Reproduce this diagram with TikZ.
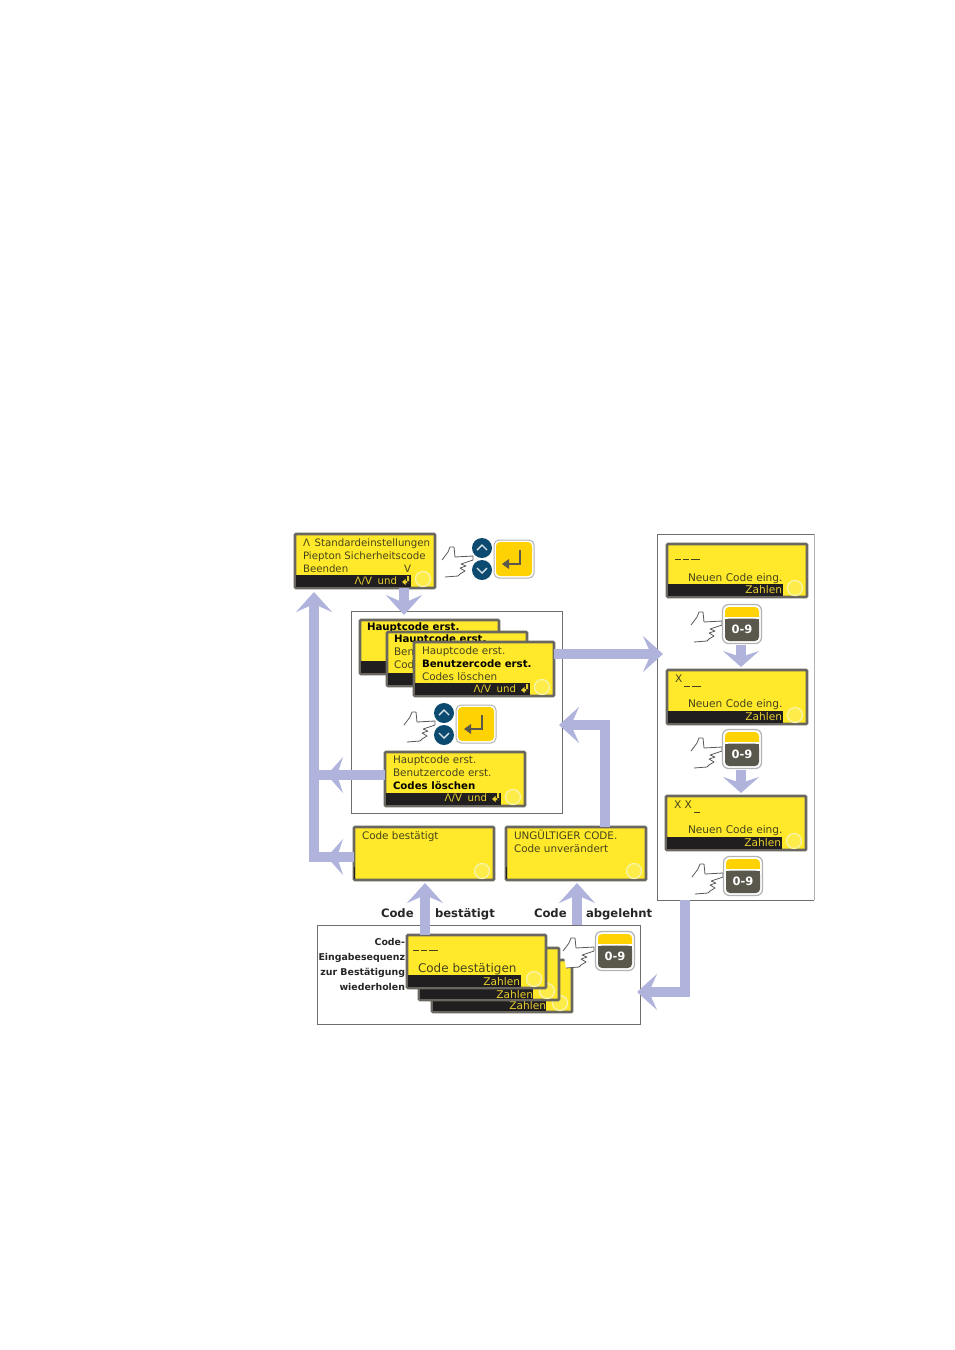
\documentclass[tikz,border=0pt]{standalone}
\usepackage{fontspec}
\setmainfont{DejaVu Sans}
\usetikzlibrary{arrows.meta,calc}
\definecolor{scry}{HTML}{FFE92A}
\definecolor{scrb}{HTML}{69675F}
\definecolor{barc}{HTML}{201E1E}
\definecolor{txtc}{HTML}{46441C}
\definecolor{bart}{HTML}{E8CF30}
\definecolor{ringc}{HTML}{F8F3A8}
\definecolor{lila}{HTML}{B0B4DC}
\definecolor{amber}{HTML}{FFD204}
\definecolor{keyd}{HTML}{5A574C}
\definecolor{navy}{HTML}{0C4A70}
\definecolor{boxl}{HTML}{6E6E6E}
\tikzset{
  x=1pt,y=-1pt,
  scrbox/.style={draw=scrb,fill=scry,line width=2.8pt,rounded corners=1pt,anchor=north west,inner sep=0,outer sep=0,minimum width=#1},
  frame/.style={draw=boxl,fill=white,line width=1pt},
  stxt/.style={anchor=base west,inner sep=0,outer sep=0,text=txtc,font=\fontsize{10.4}{12}\selectfont},
  ttxt/.style={stxt,font=\fontsize{10.2}{12}\selectfont},
  rtxt/.style={stxt,font=\fontsize{10.6}{12}\selectfont},
  sbold/.style={stxt,text=black,font=\fontsize{10.2}{12}\selectfont\bfseries},
  btxt/.style={anchor=base east,inner sep=0,outer sep=0,text=bart,font=\fontsize{10.6}{12}\selectfont},
  lbl/.style={inner sep=0,outer sep=0,text=black!85,font=\fontsize{11.6}{13}\selectfont\bfseries,anchor=base west},
  lbr/.style={inner sep=0,outer sep=0,text=black!85,font=\fontsize{9.4}{11}\selectfont\bfseries,anchor=base east},
  arr/.style={draw=lila,line width=10pt,line join=miter,-{Stealth[length=20pt,width=36pt,inset=8pt,fill=lila]}},
  arrs/.style={draw=lila,line width=10pt,-{Stealth[length=16pt,width=36pt,inset=6pt,fill=lila]}},
  hand/.pic={\draw[draw=black!65,line width=.8pt,fill=white,line join=round]
    (-31,2)--(-25,-6)--(-23,-11)--(-19,-11)--(-18,-1)--(0,-2)--(0,2)--(-12,6)--(-7,8)--(-13,10)--(-8,13)--(-13,16)--(-15,18)--(-28,19);},
}
% \scrn{name}{x}{y}{w}{h}{bar width}
\newcommand{\scrn}[6]{%
  \node[scrbox=#4pt,minimum height=#5pt] (#1) at (#2,#3) {};
  \begin{scope}[shift={(#2,#3)}]
    \fill[barc] (1.4,#5-13) rectangle (#6,#5-1.4);
    \fill[ringc!25!scry] (#4-12,#5-9) circle (7.5);
    \draw[ringc,line width=1.3pt] (#4-12,#5-9) circle (7.5);
  \end{scope}}
\newcommand{\ent}[3]{%
  \node[draw=black!30,fill=white,line width=1pt,rounded corners=5pt,minimum width=40pt,minimum height=38pt,inner sep=0,outer sep=0] (#1) at (#2,#3) {};
  \begin{scope}[shift={(#2,#3)}]
    \fill[amber,rounded corners=4pt] (-18,-17) rectangle (18,17);
    \draw[keyd,line width=2.4pt,line join=miter] (6,-9)--(6,5)--(-8,5);
    \fill[keyd] (-12,5)--(-5,0)--(-5,10)--cycle;
  \end{scope}}
\newcommand{\updn}[3]{%
  \node[circle,fill=navy,minimum size=20pt,inner sep=0,outer sep=0] (#1u) at (#2,#3) {};
  \node[circle,fill=navy,minimum size=20pt,inner sep=0,outer sep=0] (#1d) at (#2,#3+22) {};
  \begin{scope}[shift={(#2,#3)}]
    \draw[white!85!navy,line width=1.4pt] (-5,2)--(0,-3)--(5,2);
    \draw[white!85!navy,line width=1.4pt] (-5,20)--(0,25)--(5,20);
  \end{scope}}
\newcommand{\keyp}[3]{%
  \node[draw=black!30,fill=white,line width=1.2pt,rounded corners=6pt,minimum width=39pt,minimum height=39pt,inner sep=0,outer sep=0] (#1) at (#2,#3) {};
  \begin{scope}[shift={(#2,#3)}]
    \fill[amber,rounded corners=4pt] (-17,-17) rectangle (17,-2);
    \fill[white] (-17,-8) rectangle (17,-2);
    \fill[amber] (-17,-12) rectangle (17,-7);
    \fill[keyd,rounded corners=4pt] (-17,-5.5) rectangle (17,17);
    \fill[keyd] (-17,-5.5) rectangle (17,0);
  \end{scope}
  \node[inner sep=0,text=white,font=\fontsize{11.5}{13}\selectfont\bfseries] (#1t) at (#2,#3+5) {0-9};}
\newcommand{\barund}[3]{%
  \node[btxt,font=\fontsize{10.2}{12}\selectfont] (#1) at (#2,#3) {Λ/V\hspace{.55em}und};
  \begin{scope}[shift={(#2+5,#3)}]
    \fill[bart] (5,-8) rectangle (7,-1) (7,-3) -- (7,-1) -- (1,-1)--(1,-3)--cycle (3.5,-5)--(3.5,1)--(0,-2)--cycle;
  \end{scope}}
\begin{document}
\begin{tikzpicture}
\useasboundingbox (0,0) rectangle (954,1350);
\fill[white] (0,0) rectangle (954,1350);
% frames
\node[frame,anchor=north west,minimum width=211pt,minimum height=202pt,inner sep=0,outer sep=0] (midbox) at (351,611) {};
\node[frame,anchor=north west,minimum width=323pt,minimum height=99pt,inner sep=0,outer sep=0] (botbox) at (317,925) {};
\node[draw=none,fill=white,anchor=north west,minimum width=157pt,minimum height=366pt,inner sep=0,outer sep=0] (rightbox) at (657,534) {};
\draw[black!30,line width=1pt] (rightbox.north east)--(rightbox.south east);
\draw[boxl,line width=1pt] (rightbox.north east)--(rightbox.north west)--(rightbox.south west)--(rightbox.south east);
% tip coordinates
\coordinate (tipA) at (404,615);
\coordinate (tipB) at (314,592);
\coordinate (tipC) at (327,775);
\coordinate (tipD) at (327,857);
\coordinate (tipE) at (663,654);
\coordinate (tipF) at (559,725);
\coordinate (tipG) at (425,883);
\coordinate (tipH) at (577,883);
\coordinate (tipI) at (637,992);
\coordinate (tipJ) at (741,667);
\coordinate (tipK) at (741,793);
\coordinate (cornA) at (605,725);
\coordinate (cornB) at (685,992);
\coordinate (cornC) at (314,857);
\coordinate (cornD) at (314,775);
% screens and connectors
\scrn{s0}{295}{534}{140}{54}{116}
\node[ttxt] (s0a) at (303,546.5) {Λ\hspace{.15em} Standardeinstellungen};
\node[ttxt] (s0b) at (303,559.5) {Piepton Sicherheitscode};
\node[ttxt] (s0c) at (303,572) {Beenden};
\node[ttxt] (s0d) at (404,572) {V};
\barund{s0e}{397}{584}
\scrn{sD}{385}{752}{140}{54}{116}
\scrn{sE}{354}{827}{140}{53}{0}
\scrn{sF}{506}{827}{140}{53}{0}
\draw[arr] (sE.west |- tipD) -- (cornC) -- (tipB);
\draw[arrs] (sE.west |- tipD) -- (tipD);
\draw[draw=lila,line width=10pt] (sD.west |- tipC) -- (cornD);
\draw[arrs] (sD.west |- tipC) -- (tipC);
\draw[arr] (tipA |- s0.south) -- (tipA);
\draw[arr] (cornB |- rightbox.south) -- (cornB) -- (tipI);
\draw[arr] (cornA |- sF.north) -- (cornA) -- (tipF);
\draw[arr] (tipH |- botbox.north) -- (tipH);
\scrn{sA}{360}{620}{139}{54}{130}
\node[sbold] (sAa) at (367,630) {Hauptcode erst.};
\scrn{sB}{387}{632}{140}{54}{130}
\node[sbold] (sBa) at (394,642.5) {Hauptcode erst.};
\node[stxt] (sBb) at (394,655.5) {Ben};
\node[stxt] (sBc) at (394,668) {Cod};
\scrn{sC}{414}{642}{140}{54}{116}
\draw[arr] (sC.east |- tipE) -- (tipE);
\node[stxt] (sCa) at (422,654.5) {Hauptcode erst.};
\node[sbold] (sCb) at (422,667) {Benutzercode erst.};
\node[stxt] (sCc) at (422,680) {Codes löschen};
\barund{sCd}{516}{692}
\node[stxt] (sDa) at (393,763) {Hauptcode erst.};
\node[stxt] (sDb) at (393,776) {Benutzercode erst.};
\node[sbold] (sDc) at (393,789) {Codes löschen};
\barund{sDd}{487}{801}
\node[stxt] (sEa) at (362,839) {Code bestätigt};
\node[stxt] (sFa) at (514,839.5) {UNGÜLTIGER CODE.};
\node[stxt] (sFb) at (514,852.5) {Code unverändert};
% bottom stack
\scrn{sG3}{432}{960}{140}{52}{114}
\node[btxt] (sG3a) at (546,1009.5) {Zahlen};
\scrn{sG2}{419}{948}{140}{52}{114}
\node[btxt] (sG2a) at (533,998.5) {Zahlen};
\scrn{sG1}{407}{935}{139}{53}{114}
\node[btxt] (sG1a) at (520,985) {Zahlen};
\draw[arr] (tipG |- sG1.north) -- (tipG);
\node[stxt,font=\fontsize{12}{14}\selectfont] (sG1b) at (418,972) {Code bestätigen};
\draw[txtc,line width=1pt] (413,950)--(419,950) (421,950)--(427,950) (429,950)--(438,950);
\node[lbl] (l1) at (381,917.5) {Code};
\node[lbl] (l2) at (435,917.5) {bestätigt};
\node[lbl] (l3) at (534,917.5) {Code};
\node[lbl] (l4) at (586,917.5) {abgelehnt};
\node[lbr] (l5) at (405,945) {Code-};
\node[lbr] (l6) at (405,960.5) {Eingabesequenz};
\node[lbr] (l7) at (405,975.5) {zur Bestätigung};
\node[lbr] (l8) at (405,990.5) {wiederholen};
\pic at (594,949) {hand};
\keyp{k4}{615}{951}
% right column
\scrn{r1}{667}{544}{140}{53}{116}
\draw[txtc,line width=1pt] (675,559)--(681,559) (683,559)--(689,559) (691,559)--(700,559);
\node[rtxt] (r1a) at (688,581) {Neuen Code eing.};
\node[btxt] (r1b) at (782,593.5) {Zahlen};
\draw[arrs] (tipJ |- r1.south) ++(0,48) -- (tipJ);
\pic at (722,623) {hand};
\keyp{k1}{742}{624}
\scrn{r2}{667}{670}{140}{54}{116}
\node[rtxt] (r2x) at (675,682) {X};
\draw[txtc,line width=1pt] (684,686)--(690,686) (692,686)--(701,686);
\node[rtxt] (r2a) at (688,707) {Neuen Code eing.};
\node[btxt] (r2b) at (782,720) {Zahlen};
\draw[arrs] (tipK |- r2.south) ++(0,46) -- (tipK);
\pic at (722,749) {hand};
\keyp{k2}{742}{749}
\scrn{r3}{666}{796}{140}{54}{116}
\node[rtxt] (r3x) at (674,808) {X X};
\draw[txtc,line width=1pt] (694,812.5)--(700,812.5);
\node[rtxt] (r3a) at (688,833) {Neuen Code eing.};
\node[btxt] (r3b) at (781,846) {Zahlen};
\pic at (723,875) {hand};
\keyp{k3}{743}{876}
% top buttons
\pic at (473,558) {hand};
\updn{u1}{482}{548}
\ent{e1}{514}{559}
\pic at (435,723) {hand};
\updn{u2}{444}{713}
\ent{e2}{476}{724}
\end{tikzpicture}
\end{document}
